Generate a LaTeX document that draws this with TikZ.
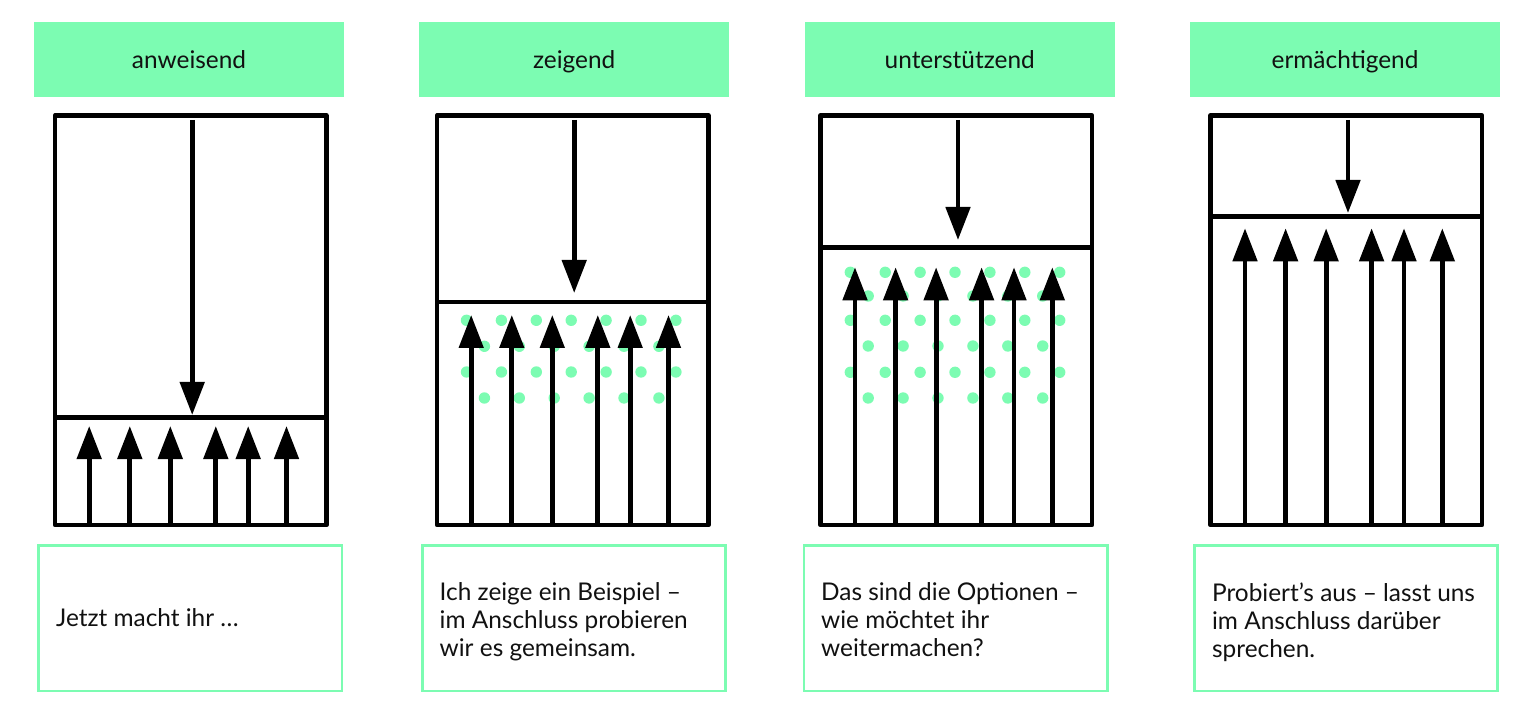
\documentclass[tikz,border=0pt]{standalone}
\usepackage{fontspec}
\setmainfont{Lato}
\usetikzlibrary{arrows.meta}
\definecolor{mint}{RGB}{124,252,178}
\definecolor{ink}{RGB}{17,17,17}
\begin{document}
\begin{tikzpicture}[x=0.5pt,y=-0.5pt,
  header/.style={fill=mint, draw=none, minimum width=155pt, minimum height=37.5pt,
    inner sep=0pt, text=ink, font=\fontsize{12.2}{14}\selectfont, text height=9.5pt, text depth=0pt},
  frame/.style={draw=black, line width=2.4pt, line join=round, minimum width=135.6pt,
    minimum height=204.75pt, inner sep=0pt},
  divider/.style={draw=black, line width=2.4pt},
  arr/.style={draw=black, line width=2.4pt, -{Triangle[width=12pt,length=16.5pt]}},
  dot/.style={fill=mint, draw=none},
  tbox/.style={draw=mint, line width=1.4pt, minimum width=151.6pt, minimum height=72.9pt, inner sep=0pt},
  caption/.style={align=left, inner sep=0pt, text=ink,
    font=\fontsize{12.2}{14}\selectfont}
]
\useasboundingbox (0,0) rectangle (1536,716);

% headers
\node[header] (h1) at (189,59.2) {anweisend};
\node[header] (h2) at (574.2,59.2) {zeigend};
\node[header] (h3) at (959.7,59.2) {unterstützend};
\node[header] (h4) at (1345,59.2) {ermächtigend};

% dots (behind arrows)
\foreach \y/\s in {320.3/0, 346.3/1, 372/0, 398/1} {
  \ifnum\s=0
    \foreach \k in {0,...,6} \fill[dot] ({437+29.5+34.9*\k},\y) circle[radius=2.85pt];
  \else
    \foreach \k in {0,...,5} \fill[dot] ({437+47.4+34.9*\k},\y) circle[radius=2.85pt];
  \fi
}
\foreach \y/\s in {272.3/0, 296/1, 320.3/0, 346/1, 372.3/0, 398/1} {
  \ifnum\s=0
    \foreach \k in {0,...,6} \fill[dot] ({820.8+29.5+34.9*\k},\y) circle[radius=2.85pt];
  \else
    \foreach \k in {0,...,5} \fill[dot] ({820.8+47.4+34.9*\k},\y) circle[radius=2.85pt];
  \fi
}

% frames, dividers and arrows
\foreach \i/\L/\D/\dt/\ut in {1/55/417.5/415/426, 2/437/302/293/315, 3/820.8/247.5/240/267.3, 4/1210.8/216.5/213/228.3} {
  \node[frame] (f\i) at ({\L+135.6},320.25) {};
  \draw[divider] (\L,\D) -- ({\L+271.2},\D);
  \coordinate (ds\i) at ({\L+137.2},120);
  \coordinate (de\i) at ({\L+137.2},\dt);
  \draw[arr] (ds\i) -- (de\i);
  \foreach \o [count=\j] in {34.2,74.8,115.3,160.8,193.2,231.5} {
    \coordinate (us\i-\j) at ({\L+\o},524);
    \coordinate (ue\i-\j) at ({\L+\o},\ut);
    \draw[arr] (us\i-\j) -- (ue\i-\j);
  }
}

% text boxes
\node[tbox] (t1) at (190.3,618.1) {};
\node[tbox] (t2) at (573.9,618.1) {};
\node[tbox] (t3) at (955.5,618.1) {};
\node[tbox] (t4) at (1346,618.1) {};

\node[caption, anchor=base west] (c1) at (55.7,626.7) {Jetzt macht ihr …};
\node[caption, anchor=north west] (c2) at (439.3,582.5) {Ich zeige ein Beispiel –\\im Anschluss probieren\\wir es gemeinsam.};
\node[caption, anchor=north west] (c3) at (820.7,582.5) {Das sind die Optionen –\\wie möchtet ihr\\weitermachen?};
\node[caption, anchor=north west] (c4) at (1211.7,582.5) {Probiert’s aus – lasst uns\\im Anschluss darüber\\sprechen.};
\end{tikzpicture}
\end{document}
